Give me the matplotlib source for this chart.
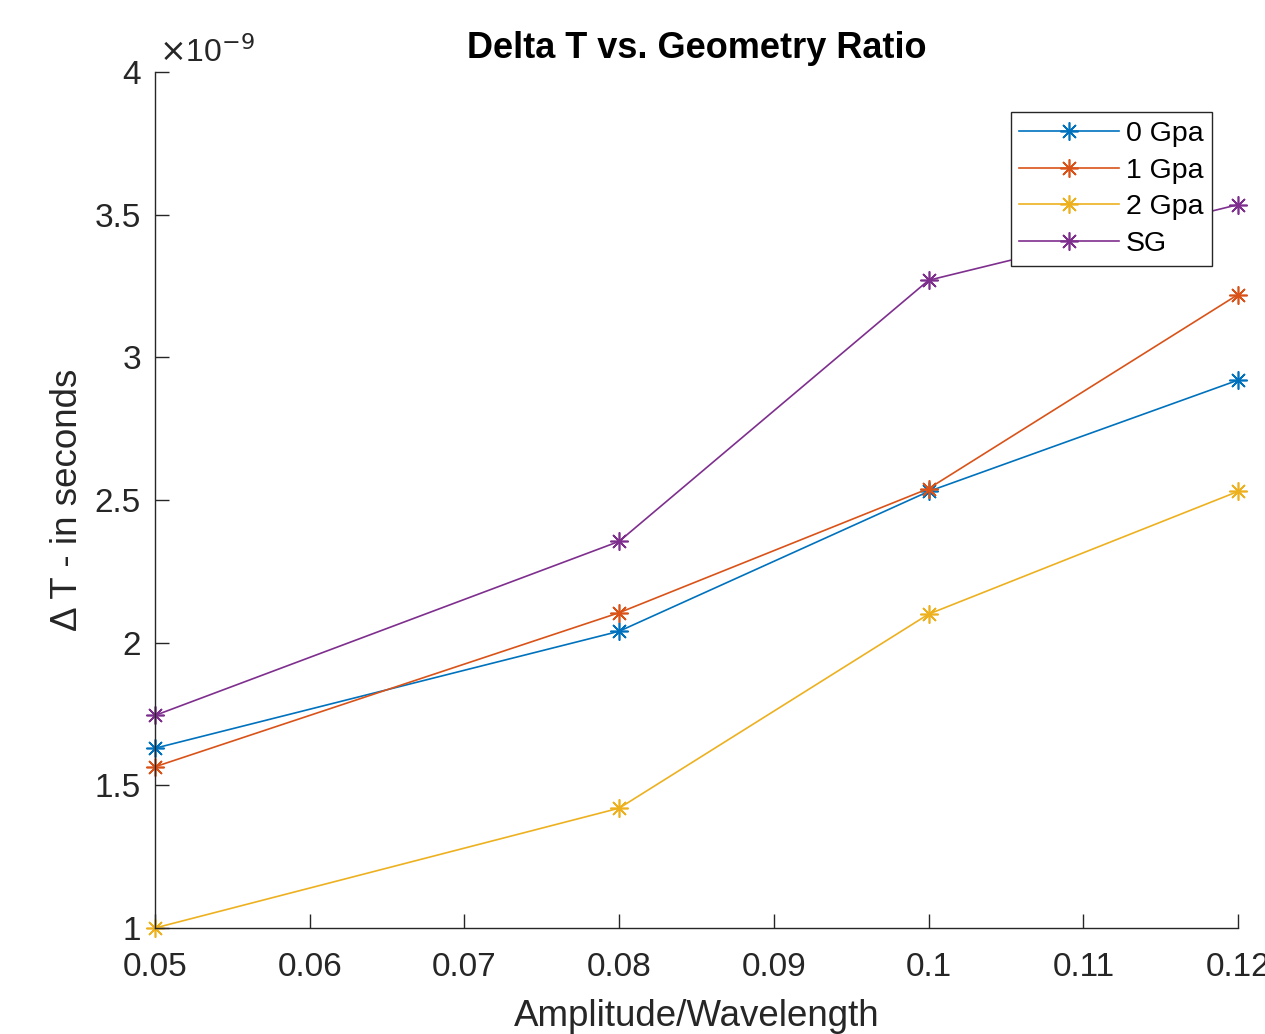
import matplotlib
matplotlib.use("Agg")
import matplotlib.pyplot as plt
from matplotlib.ticker import FuncFormatter

plt.rcParams["font.family"] = ["Liberation Sans", "DejaVu Sans"]

ratio = [0.05, 0.08, 0.10, 0.12]
dt_0gpa = [1.63e-9, 2.04e-9, 2.53e-9, 2.92e-9]
dt_1gpa = [1.565e-9, 2.105e-9, 2.54e-9, 3.22e-9]
dt_2gpa = [1.0e-9, 1.42e-9, 2.10e-9, 2.53e-9]
dt_sg = [1.745e-9, 2.355e-9, 3.27e-9, 3.535e-9]
labels = ["0 Gpa", "1 Gpa", "2 Gpa", "SG"]
colors = ["#0072BD", "#D95319", "#EDB120", "#7E2F8E"]

fig = plt.figure(figsize=(12.65, 10.34), dpi=100)
ax = fig.add_axes([0.1225, 0.1025, 0.8562, 0.8279])

# MATLAB-style asterisk marker: 8 spokes
for ys, lab, c in zip([dt_0gpa, dt_1gpa, dt_2gpa, dt_sg], labels, colors):
    ax.plot(ratio, ys, color=c, lw=1.2, marker=(8, 2, 0), markersize=13,
            markeredgewidth=1.2, label=lab, clip_on=False)

ax.set_xlim(0.05, 0.12)
ax.set_ylim(1e-9, 4e-9)
ax.set_xticks([0.05, 0.06, 0.07, 0.08, 0.09, 0.10, 0.11, 0.12])
ax.set_yticks([1e-9, 1.5e-9, 2e-9, 2.5e-9, 3e-9, 3.5e-9, 4e-9])
ax.xaxis.set_major_formatter(FuncFormatter(lambda v, p: "%g" % round(v, 4)))
ax.yaxis.set_major_formatter(FuncFormatter(lambda v, p: "%g" % round(v * 1e9, 3)))

for s in ["top", "right"]:
    ax.spines[s].set_visible(False)
for s in ["left", "bottom"]:
    ax.spines[s].set_color("#262626")
    ax.spines[s].set_linewidth(1.0)
ax.tick_params(direction="in", length=10, width=1.0, colors="#262626",
               labelsize=24)
ax.tick_params(axis="x", pad=17)
ax.tick_params(axis="y", pad=10)

ax.text(0.004, 1.003, r"$\times$10$^{-9}$", transform=ax.transAxes,
        fontsize=23, color="#262626", ha="left", va="bottom")

ax.set_title("Delta T vs. Geometry Ratio", fontsize=26, fontweight="bold",
             color="black", pad=10)
ax.set_xlabel("Amplitude/Wavelength", fontsize=26.5, color="#262626", labelpad=12)
ax.set_ylabel("\u0394 T - in seconds", fontsize=26.5, color="#262626", labelpad=7)

leg = ax.legend(loc="upper right", bbox_to_anchor=(0.976, 0.953), fontsize=20.5,
                handlelength=3.5, handletextpad=0.25, borderpad=0.3,
                labelspacing=0.38, borderaxespad=0, fancybox=False, framealpha=1)
leg.get_frame().set_edgecolor("#262626")
leg.get_frame().set_linewidth(1.0)

fig.savefig("out.png", dpi=100)
